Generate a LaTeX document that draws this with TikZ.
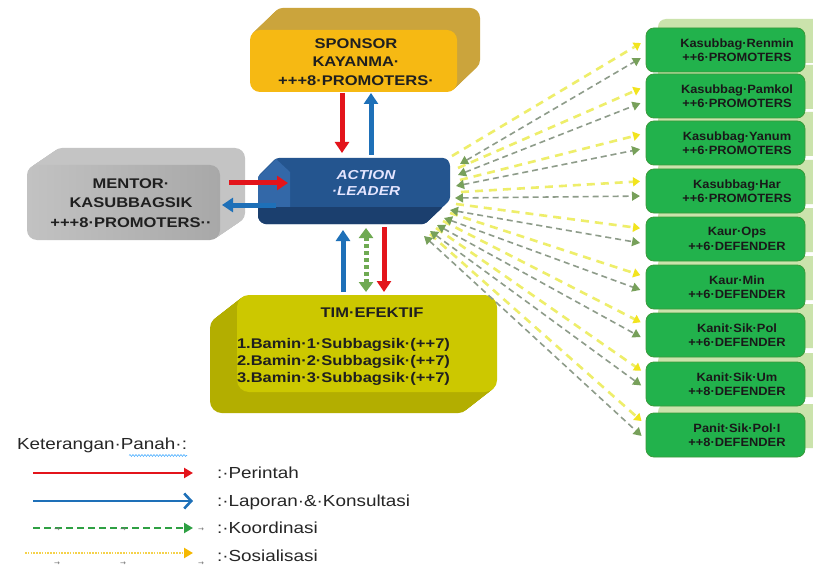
\documentclass[tikz,border=0pt]{standalone}
\usepackage{fontspec}
\setmainfont[FakeStretch=1.18]{Liberation Sans}
\newfontfamily\gfont[FakeStretch=1.07]{Liberation Sans}
\newfontfamily\arrowfont{DejaVu Sans}
\usetikzlibrary{arrows.meta,decorations.pathmorphing,calc}
\definecolor{gold}{HTML}{F6B913}
\definecolor{goldside}{HTML}{CBA43C}
\definecolor{grayfront}{HTML}{A8A8A8}
\definecolor{grayside}{HTML}{C4C4C4}
\definecolor{bluebox}{HTML}{24558F}
\definecolor{blueband}{HTML}{1B3F6E}
\definecolor{bluelight}{HTML}{3368A8}
\definecolor{olive}{HTML}{CCC800}
\definecolor{oliveside}{HTML}{B3AE00}
\definecolor{gbox}{HTML}{22B24C}
\definecolor{gedge}{HTML}{3A9A3A}
\definecolor{gback}{HTML}{CBE3AC}
\definecolor{redarr}{HTML}{E3141B}
\definecolor{bluearr}{HTML}{1E70B8}
\definecolor{greenarr}{HTML}{6FAA52}
\definecolor{yline}{HTML}{EEEE6A}
\definecolor{ytip}{HTML}{F2E41E}
\definecolor{gline}{HTML}{8E9C8A}
\definecolor{gtip}{HTML}{77A05A}
\definecolor{legG}{HTML}{2EA043}
\definecolor{legY}{HTML}{F5D24A}
\definecolor{legYt}{HTML}{F5B800}
\begin{document}
\begin{tikzpicture}[x=1pt,y=-1pt,
  every node/.style={inner sep=0pt,outer sep=0pt},
  bigtxt/.style={font=\bfseries\fontsize{14}{18.5}\selectfont,align=center,text=black!88},
  timtxt/.style={font=\bfseries\fontsize{14}{17}\selectfont,align=left,text=black!88,anchor=west},
  acttxt/.style={font=\bfseries\itshape\fontsize{13}{16}\selectfont,align=center,text=white!90!blue},
  greenbox/.style={fill=gbox,draw=gedge,line width=0.8pt,rounded corners=8pt,minimum width=159pt,minimum height=44pt},
  greentxt/.style={font=\gfont\bfseries\fontsize{12}{14.5}\selectfont,align=center,text=black!90},
  thickred/.style={draw=redarr,line width=5pt,-{Triangle[width=14pt,length=11pt]}},
  thickblue/.style={draw=bluearr,line width=5pt,-{Triangle[width=14pt,length=11pt]}},
  yarrow/.style={draw=yline,line width=2.6pt,dash pattern=on 8pt off 6pt,-{Triangle[width=9pt,length=7pt,color=ytip]},shorten >=6pt},
  garrow/.style={draw=gline,line width=1.6pt,dash pattern=on 6pt off 4pt,{Triangle[width=9pt,length=8pt,color=gtip]}-{Triangle[width=9pt,length=8pt,color=gtip]},shorten >=6pt},
  legtxt/.style={font=\fontsize{16}{18}\selectfont,anchor=west,text=black!85},
  tabmark/.style={font=\arrowfont\fontsize{7}{8}\selectfont,text=black!55}
]
\useasboundingbox (0,0) rectangle (813,572);
\fill[white] (0,0) rectangle (813,572);

% ---------- Sponsor (gold 3D box) ----------
\foreach \k in {1,...,23}
  \fill[goldside,rounded corners=10pt] (250+\k,30-0.96*\k) rectangle (457+\k,92-0.96*\k);
\node[fill=gold,rounded corners=10pt,minimum width=207pt,minimum height=62pt] (sponsor) at (353.5,61) {};
\node[bigtxt] (sponsortxt) at (356,62) {SPONSOR\\KAYANMA·\\+++8·PROMOTERS·};

% ---------- Mentor (gray 3D box) ----------
\foreach \k in {1,...,25}
  \fill[grayside,rounded corners=10pt] (27+\k,165-0.68*\k) rectangle (220+\k,240-0.68*\k);
\node[left color=grayfront!70!white,right color=grayfront,rounded corners=10pt,minimum width=193pt,minimum height=75pt] (mentor) at (123.5,202.5) {};
\node[bigtxt,font=\bfseries\fontsize{14}{19.5}\selectfont] (mentortxt) at (131,203) {MENTOR·\\KASUBBAGSIK\\+++8·PROMOTERS··};

% ---------- Action leader (blue bevelled box) ----------
\fill[bluebox,rounded corners=3pt] (276,158) -- (446,158) -- (450,163) -- (450,200) -- (425,224) -- (263,224) -- (258,219) -- (258,176) -- cycle;
\fill[bluelight] (258,177) -- (276,159) -- (290,172) -- (290,207) -- (258,207) -- cycle;
\fill[blueband,rounded corners=2pt] (258,207) -- (443,207) -- (425,224) -- (263,224) -- (258,219) -- cycle;
\node[minimum width=192pt,minimum height=66pt] (action) at (354,191) {};
\node[acttxt] (actiontxt) at (366,183) {ACTION\\·LEADER};

% ---------- Tim efektif (olive 3D box) ----------
\foreach \k in {1,...,27}
  \fill[oliveside,rounded corners=12pt] (237-\k,295+0.78*\k) rectangle (497-\k,392+0.78*\k);
\node[fill=olive,rounded corners=12pt,minimum width=260pt,minimum height=97pt] (tim) at (367,343.5) {};
\node[bigtxt] (timtitle) at (372,313) {TIM·EFEKTIF};
\node[timtxt] (timlist) at (237,362) {1.Bamin·1·Subbagsik·(++7)\\2.Bamin·2·Subbagsik·(++7)\\3.Bamin·3·Subbagsik·(++7)};

% ---------- thick arrows ----------
\coordinate (xa) at (342,0);
\coordinate (xb) at (371,0);
\coordinate (xc) at (343,0);
\coordinate (xd) at (366,0);
\coordinate (xe) at (384,0);
\coordinate (ya) at (0,183);
\coordinate (yb) at (0,205);
\draw[thickred,shorten <=1pt,shorten >=5pt] (sponsor.south -| xa) -- (action.north -| xa);
\draw[thickblue,shorten <=3pt,shorten >=1pt] (action.north -| xb) -- (sponsor.south -| xb);
\draw[thickred,shorten <=9pt] (mentor.east |- ya) -- ([xshift=30pt]action.west |- ya);
\draw[thickblue,shorten <=-9pt,shorten >=2pt] ([xshift=9pt]action.west |- yb) -- (mentor.east |- yb);
\draw[thickblue,shorten <=3pt,shorten >=6pt] (tim.north -| xc) -- (action.south -| xc);
\draw[draw=greenarr,line width=5pt,dash pattern=on 4pt off 3pt,{Triangle[width=14pt,length=10pt]}-{Triangle[width=14pt,length=10pt]},shorten <=4pt,shorten >=3pt] (action.south -| xd) -- (tim.north -| xd);
\draw[thickred,shorten <=3pt,shorten >=3pt] (action.south -| xe) -- (tim.north -| xe);

% ---------- right column ----------
\foreach \i/\cy in {1/50,2/96,3/143,4/191,5/239,6/287,7/335,8/384,9/435}{
  \fill[gback,rounded corners=8pt] (658,\cy-31) rectangle (822,\cy+13);
}
\foreach \i/\cy/\la/\lb in {1/50/Kasubbag·Renmin/++6·PROMOTERS,2/96/Kasubbag·Pamkol/++6·PROMOTERS,3/143/Kasubbag·Yanum/++6·PROMOTERS,4/191/Kasubbag·Har/++6·PROMOTERS,5/239/Kaur·Ops/++6·DEFENDER,6/287/Kaur·Min/++6·DEFENDER,7/335/Kanit·Sik·Pol/++6·DEFENDER,8/384/Kanit·Sik·Um/++8·DEFENDER,9/435/Panit·Sik·Pol·I/++8·DEFENDER}{
  \node[greenbox] (k\i) at (725.5,\cy) {};
  \node[greentxt] (t\i) at (737,\cy) {\la\\\lb};
}

% ---------- fan of dashed arrows ----------
\foreach \i/\ax/\ay/\bx/\by in {1/460/164/452/156,2/458/175/458/168,3/456/186/460/180,4/455/198/461/192,5/450/210/456/204,6/444/218/450/213,7/437/225/443/221,8/430/231/436/228,9/424/236/430/234}{
  \coordinate (ys\i) at (\bx,\by);
  \coordinate (gs\i) at (\ax,\ay);
}
\foreach \i in {1,...,9}{
  \draw[yarrow] (ys\i) -- ([yshift=10pt]k\i.west);
}
\foreach \i in {1,...,9}{
  \draw[garrow] (gs\i) -- ([yshift=-5pt]k\i.west);
}

% ---------- legend ----------
\node[legtxt] (legtitle) at (17,445) {Keterangan·Panah·:};
\draw[decorate,decoration={snake,amplitude=0.9pt,segment length=3pt},draw=blue!45!cyan!70!white,line width=0.6pt] ([xshift=-58pt,yshift=-3pt]legtitle.south east) -- ([yshift=-3pt]legtitle.south east);

\coordinate (l1a) at (33,473); \coordinate (l1b) at (193,473);
\coordinate (l2a) at (33,501); \coordinate (l2b) at (193,501);
\coordinate (l3a) at (33,528); \coordinate (l3b) at (193,528);
\coordinate (l4a) at (25,553); \coordinate (l4b) at (193,553);
\draw[draw=redarr,line width=2.6pt,-{Triangle[width=10pt,length=9pt]}] (l1a) -- (l1b);
\draw[draw=bluearr,line width=2.6pt,-{Straight Barb[width=15pt,length=7pt]}] (l2a) -- (l2b);
\draw[draw=legG,line width=2.2pt,dash pattern=on 7pt off 4pt,-{Triangle[width=10pt,length=9pt]}] (l3a) -- (l3b);
\draw[draw=legY,line width=2.4pt,dash pattern=on 1.6pt off 1.2pt,-{Triangle[width=10pt,length=9pt,color=legYt]}] (l4a) -- (l4b);

\node[tabmark] (tm1) at (57,530) {→};
\node[tabmark] (tm2) at (123,530) {→};
\node[tabmark] (tm3) at (201,530) {→};
\node[tabmark] (tm4) at (57,564) {→};
\node[tabmark] (tm5) at (123,564) {→};
\node[tabmark] (tm6) at (201,564) {→};

\node[legtxt] (lab1) at (217,473) {:·Perintah};
\node[legtxt] (lab2) at (217,502) {:·Laporan·\&·Konsultasi};
\node[legtxt] (lab3) at (217,528) {:·Koordinasi};
\node[legtxt] (lab4) at (217,556) {:·Sosialisasi};
\end{tikzpicture}
\end{document}
